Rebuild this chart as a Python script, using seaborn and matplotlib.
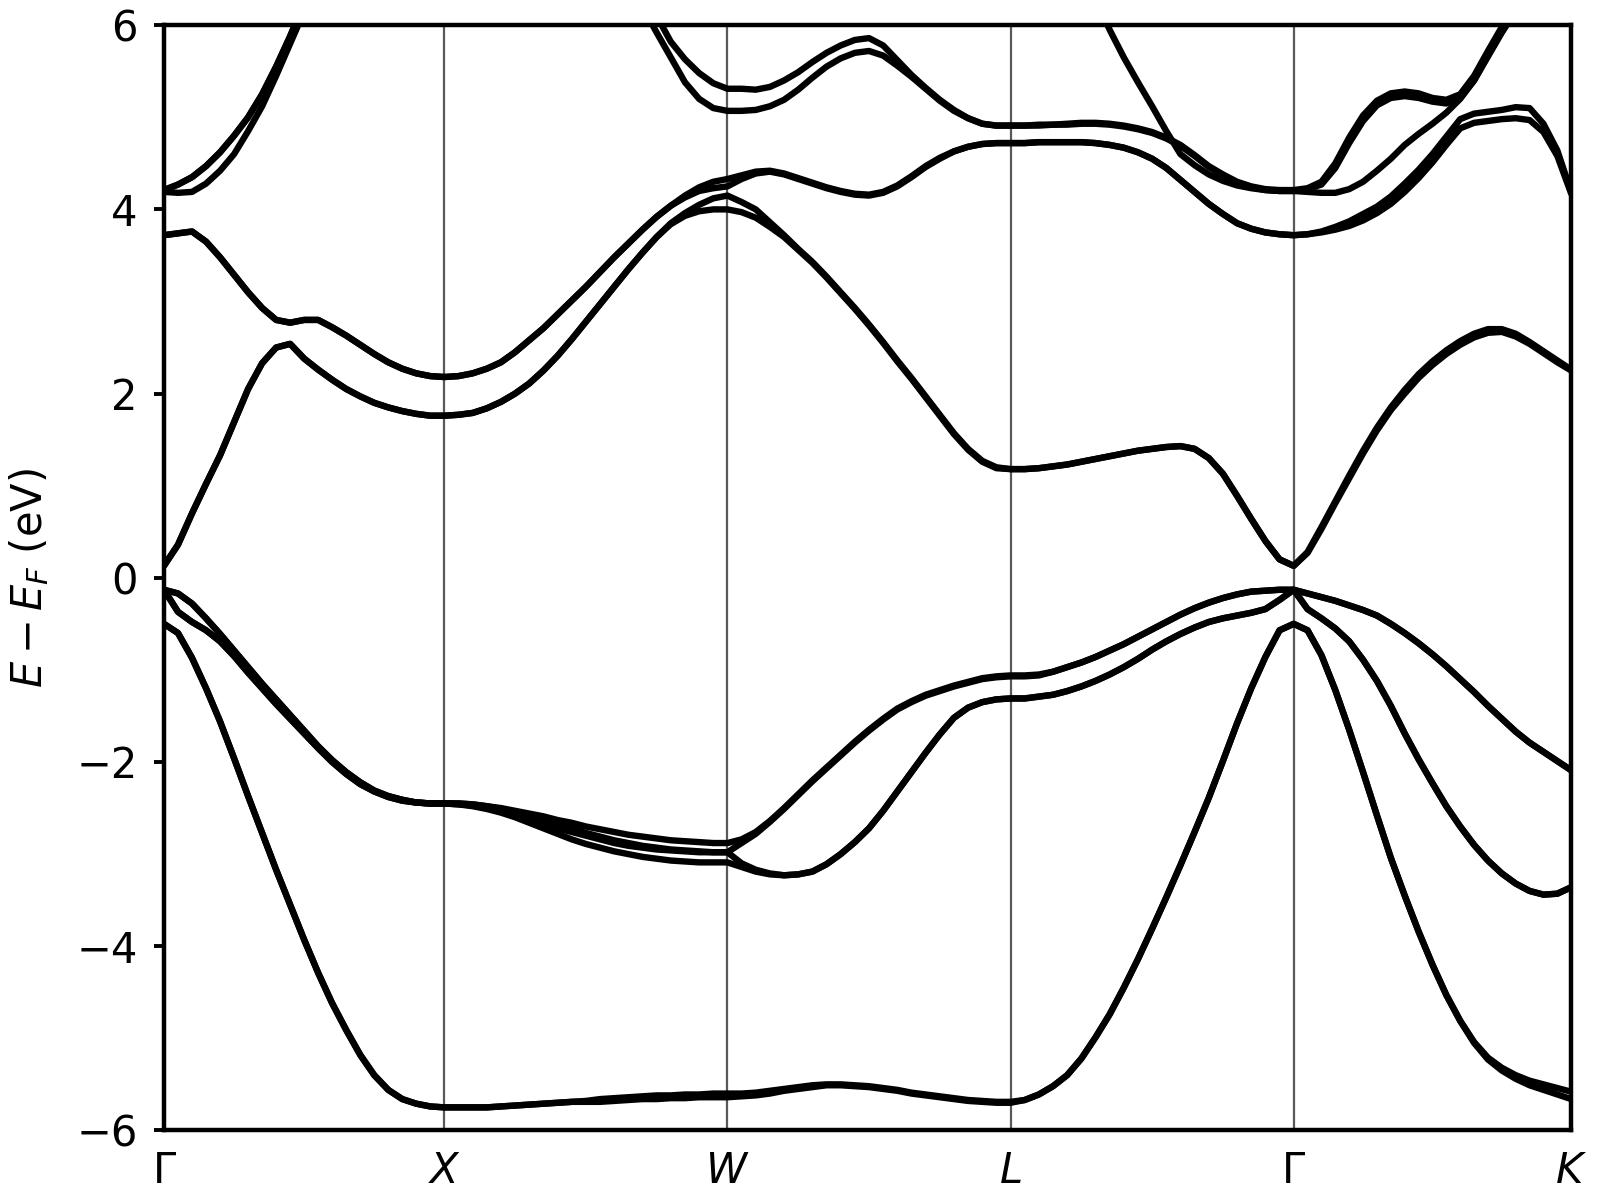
import numpy as np
import pandas as pd
import matplotlib
matplotlib.use("Agg")
import matplotlib.pyplot as plt
import seaborn as sns

sns.set_style("ticks")
plt.rcParams.update({"text.color": "black", "axes.labelcolor": "black",
                     "xtick.color": "black", "ytick.color": "black",
                     "axes.edgecolor": "black", "font.size": 15})

# high-symmetry path (positions)
kpath_labels = [r"$\Gamma$", r"$X$", r"$W$", r"$L$", r"$\Gamma$", r"$K$"]
kpath_nodes = [0.0, 1.0, 2.01, 3.02, 4.03, 5.02]
seg_frac = [0, .05, .1, .15, .2, .25, .3, .35, .4, .45, .5,
            .55, .6, .65, .7, .75, .8, .85, .9, .95, 1]

# band energies (eV), one row per segment: G-X, X-W, W-L, L-G, G-K
B1 = [[-0.50, -0.60, -0.87, -1.20, -1.56, -1.96, -2.37, -2.77, -3.17, -3.55, -3.93, -4.29, -4.62, -4.91, -5.18, -5.40, -5.56, -5.66, -5.71, -5.74, -5.75],
      [-5.75, -5.75, -5.75, -5.75, -5.74, -5.73, -5.72, -5.71, -5.70, -5.69, -5.68, -5.66, -5.65, -5.64, -5.63, -5.62, -5.62, -5.61, -5.61, -5.60, -5.60],
      [-5.60, -5.60, -5.59, -5.57, -5.55, -5.53, -5.51, -5.50, -5.50, -5.51, -5.52, -5.54, -5.56, -5.59, -5.61, -5.63, -5.65, -5.67, -5.68, -5.69, -5.69],
      [-5.69, -5.67, -5.61, -5.52, -5.40, -5.22, -4.99, -4.74, -4.45, -4.14, -3.81, -3.47, -3.12, -2.76, -2.39, -1.99, -1.58, -1.20, -0.86, -0.57, -0.50],
      [-0.50, -0.57, -0.84, -1.22, -1.65, -2.11, -2.58, -3.04, -3.45, -3.84, -4.20, -4.53, -4.81, -5.05, -5.23, -5.35, -5.44, -5.51, -5.56, -5.61, -5.66]]
B1b = [[-0.50, -0.60, -0.87, -1.20, -1.56, -1.96, -2.37, -2.77, -3.17, -3.55, -3.93, -4.29, -4.62, -4.91, -5.18, -5.40, -5.56, -5.66, -5.71, -5.74, -5.75],
       [-5.75, -5.75, -5.75, -5.75, -5.74, -5.73, -5.72, -5.71, -5.70, -5.69, -5.69, -5.69, -5.68, -5.67, -5.66, -5.66, -5.65, -5.65, -5.64, -5.64, -5.64],
       [-5.64, -5.63, -5.62, -5.60, -5.57, -5.55, -5.53, -5.51, -5.51, -5.52, -5.53, -5.55, -5.57, -5.60, -5.62, -5.64, -5.66, -5.68, -5.69, -5.70, -5.70],
       [-5.70, -5.67, -5.61, -5.52, -5.40, -5.22, -4.99, -4.74, -4.45, -4.14, -3.81, -3.47, -3.12, -2.76, -2.39, -1.99, -1.58, -1.20, -0.86, -0.57, -0.50],
       [-0.50, -0.57, -0.84, -1.22, -1.65, -2.11, -2.58, -3.04, -3.45, -3.84, -4.20, -4.53, -4.81, -5.04, -5.21, -5.32, -5.40, -5.46, -5.50, -5.54, -5.58]]
M = [[-0.13, -0.37, -0.48, -0.57, -0.69, -0.85, -1.03, -1.20, -1.37, -1.53, -1.69, -1.85, -2.00, -2.13, -2.24, -2.32, -2.38, -2.42, -2.44, -2.45, -2.45],
     [-2.45, -2.46, -2.48, -2.51, -2.55, -2.60, -2.66, -2.72, -2.78, -2.84, -2.89, -2.93, -2.97, -3.00, -3.03, -3.05, -3.07, -3.08, -3.09, -3.09, -3.09],
     [-3.09, -3.14, -3.19, -3.22, -3.23, -3.22, -3.19, -3.11, -3.00, -2.87, -2.72, -2.53, -2.32, -2.11, -1.90, -1.70, -1.52, -1.41, -1.35, -1.32, -1.31],
     [-1.31, -1.31, -1.29, -1.27, -1.23, -1.18, -1.12, -1.05, -0.97, -0.88, -0.78, -0.69, -0.61, -0.54, -0.48, -0.44, -0.41, -0.38, -0.34, -0.24, -0.13],
     [-0.13, -0.34, -0.44, -0.55, -0.69, -0.89, -1.12, -1.39, -1.69, -1.97, -2.23, -2.48, -2.70, -2.90, -3.07, -3.21, -3.32, -3.40, -3.44, -3.43, -3.36]]
M2 = [[-0.13, -0.37, -0.48, -0.57, -0.69, -0.85, -1.03, -1.20, -1.37, -1.53, -1.69, -1.85, -2.00, -2.13, -2.24, -2.32, -2.38, -2.42, -2.44, -2.45, -2.45],
      [-2.45, -2.46, -2.47, -2.50, -2.53, -2.57, -2.62, -2.67, -2.72, -2.76, -2.80, -2.84, -2.88, -2.91, -2.93, -2.95, -2.96, -2.97, -2.98, -2.98, -2.98],
      [-2.98, -3.10, -3.17, -3.21, -3.23, -3.22, -3.19, -3.11, -3.00, -2.87, -2.72, -2.53, -2.32, -2.11, -1.90, -1.70, -1.52, -1.41, -1.35, -1.32, -1.31],
      [-1.31, -1.31, -1.29, -1.27, -1.23, -1.18, -1.12, -1.05, -0.97, -0.88, -0.78, -0.69, -0.61, -0.54, -0.48, -0.44, -0.41, -0.38, -0.34, -0.24, -0.13],
      [-0.13, -0.34, -0.44, -0.55, -0.69, -0.89, -1.12, -1.39, -1.69, -1.97, -2.23, -2.48, -2.70, -2.90, -3.07, -3.21, -3.32, -3.40, -3.44, -3.43, -3.36]]
T = [[-0.13, -0.17, -0.28, -0.44, -0.61, -0.79, -0.97, -1.15, -1.32, -1.49, -1.66, -1.83, -1.98, -2.11, -2.22, -2.31, -2.37, -2.41, -2.44, -2.45, -2.45],
     [-2.45, -2.45, -2.46, -2.48, -2.50, -2.53, -2.56, -2.59, -2.63, -2.66, -2.70, -2.73, -2.76, -2.79, -2.81, -2.83, -2.85, -2.86, -2.87, -2.88, -2.88],
     [-2.88, -2.84, -2.76, -2.64, -2.50, -2.35, -2.20, -2.06, -1.92, -1.78, -1.65, -1.53, -1.42, -1.34, -1.27, -1.22, -1.17, -1.13, -1.09, -1.07, -1.06],
     [-1.06, -1.06, -1.05, -1.02, -0.97, -0.92, -0.86, -0.79, -0.72, -0.64, -0.56, -0.48, -0.40, -0.33, -0.27, -0.22, -0.18, -0.15, -0.14, -0.13, -0.13],
     [-0.13, -0.17, -0.21, -0.25, -0.30, -0.35, -0.41, -0.50, -0.60, -0.71, -0.83, -0.96, -1.10, -1.24, -1.39, -1.53, -1.67, -1.79, -1.89, -1.99, -2.09]]
T2 = [[-0.13, -0.17, -0.28, -0.44, -0.61, -0.79, -0.97, -1.15, -1.32, -1.49, -1.66, -1.83, -1.98, -2.11, -2.22, -2.31, -2.37, -2.41, -2.44, -2.45, -2.45],
      [-2.45, -2.45, -2.46, -2.48, -2.51, -2.55, -2.59, -2.63, -2.68, -2.72, -2.77, -2.81, -2.85, -2.88, -2.91, -2.93, -2.95, -2.96, -2.97, -2.98, -2.98],
      [-2.98, -2.88, -2.78, -2.65, -2.51, -2.36, -2.21, -2.07, -1.93, -1.79, -1.66, -1.54, -1.43, -1.35, -1.28, -1.23, -1.18, -1.14, -1.10, -1.08, -1.07],
      [-1.07, -1.07, -1.06, -1.02, -0.97, -0.92, -0.86, -0.79, -0.72, -0.64, -0.56, -0.48, -0.40, -0.33, -0.27, -0.22, -0.18, -0.15, -0.14, -0.13, -0.13],
      [-0.13, -0.17, -0.21, -0.25, -0.30, -0.35, -0.41, -0.50, -0.60, -0.71, -0.83, -0.96, -1.10, -1.24, -1.39, -1.53, -1.67, -1.79, -1.89, -1.99, -2.09]]
C = [[0.13, 0.36, 0.70, 1.02, 1.33, 1.69, 2.05, 2.33, 2.50, 2.54, 2.38, 2.26, 2.15, 2.05, 1.97, 1.90, 1.85, 1.81, 1.78, 1.76, 1.76],
     [1.76, 1.77, 1.79, 1.84, 1.91, 2.00, 2.11, 2.25, 2.41, 2.59, 2.78, 2.97, 3.16, 3.35, 3.53, 3.70, 3.84, 3.93, 3.98, 4.00, 4.00],
     [4.00, 3.97, 3.91, 3.81, 3.70, 3.56, 3.42, 3.26, 3.09, 2.92, 2.74, 2.55, 2.35, 2.16, 1.96, 1.76, 1.56, 1.39, 1.26, 1.19, 1.18],
     [1.18, 1.18, 1.19, 1.21, 1.23, 1.26, 1.29, 1.32, 1.35, 1.38, 1.40, 1.42, 1.43, 1.40, 1.30, 1.13, 0.89, 0.64, 0.40, 0.20, 0.13],
     [0.13, 0.28, 0.55, 0.83, 1.11, 1.38, 1.63, 1.85, 2.04, 2.21, 2.35, 2.47, 2.57, 2.65, 2.70, 2.70, 2.65, 2.56, 2.46, 2.36, 2.26]]
C2 = [[0.13, 0.36, 0.70, 1.02, 1.33, 1.69, 2.05, 2.33, 2.50, 2.54, 2.38, 2.26, 2.15, 2.05, 1.97, 1.90, 1.85, 1.81, 1.78, 1.76, 1.76],
      [1.76, 1.77, 1.79, 1.84, 1.91, 2.00, 2.11, 2.25, 2.41, 2.59, 2.78, 2.97, 3.16, 3.35, 3.53, 3.70, 3.85, 3.96, 4.05, 4.12, 4.15],
      [4.15, 4.08, 4.00, 3.86, 3.72, 3.57, 3.43, 3.27, 3.10, 2.93, 2.75, 2.56, 2.36, 2.17, 1.97, 1.77, 1.57, 1.40, 1.27, 1.20, 1.18],
      [1.18, 1.18, 1.19, 1.21, 1.23, 1.26, 1.29, 1.32, 1.35, 1.38, 1.40, 1.42, 1.43, 1.40, 1.30, 1.13, 0.89, 0.64, 0.40, 0.20, 0.13],
      [0.13, 0.27, 0.53, 0.81, 1.08, 1.35, 1.60, 1.82, 2.00, 2.17, 2.31, 2.43, 2.53, 2.61, 2.66, 2.67, 2.62, 2.54, 2.44, 2.34, 2.25]]
D = [[3.72, 3.74, 3.76, 3.65, 3.48, 3.29, 3.10, 2.93, 2.80, 2.77, 2.80, 2.80, 2.72, 2.63, 2.53, 2.43, 2.34, 2.27, 2.22, 2.19, 2.18],
     [2.18, 2.19, 2.22, 2.27, 2.34, 2.45, 2.58, 2.71, 2.86, 3.01, 3.16, 3.32, 3.48, 3.63, 3.78, 3.92, 4.04, 4.15, 4.24, 4.30, 4.33],
     [4.33, 4.37, 4.41, 4.42, 4.39, 4.34, 4.29, 4.24, 4.20, 4.17, 4.16, 4.19, 4.26, 4.36, 4.47, 4.56, 4.63, 4.68, 4.71, 4.72, 4.72],
     [4.72, 4.72, 4.73, 4.73, 4.73, 4.73, 4.72, 4.70, 4.67, 4.62, 4.55, 4.45, 4.32, 4.19, 4.06, 3.95, 3.85, 3.79, 3.75, 3.73, 3.72],
     [3.72, 3.73, 3.76, 3.81, 3.87, 3.95, 4.03, 4.14, 4.28, 4.43, 4.60, 4.79, 4.98, 5.04, 5.06, 5.08, 5.11, 5.10, 4.93, 4.64, 4.19]]
D2 = [[3.72, 3.74, 3.76, 3.65, 3.48, 3.29, 3.10, 2.93, 2.80, 2.77, 2.80, 2.80, 2.72, 2.63, 2.53, 2.43, 2.34, 2.27, 2.22, 2.19, 2.18],
      [2.18, 2.19, 2.22, 2.27, 2.34, 2.45, 2.58, 2.71, 2.86, 3.01, 3.16, 3.32, 3.48, 3.63, 3.78, 3.92, 4.04, 4.13, 4.20, 4.23, 4.25],
      [4.25, 4.33, 4.39, 4.41, 4.38, 4.33, 4.28, 4.23, 4.19, 4.16, 4.15, 4.18, 4.25, 4.35, 4.46, 4.55, 4.63, 4.68, 4.71, 4.72, 4.72],
      [4.72, 4.72, 4.73, 4.73, 4.73, 4.73, 4.72, 4.70, 4.67, 4.62, 4.55, 4.45, 4.32, 4.19, 4.06, 3.95, 3.85, 3.79, 3.75, 3.73, 3.72],
      [3.72, 3.73, 3.75, 3.78, 3.82, 3.88, 3.96, 4.06, 4.19, 4.34, 4.51, 4.70, 4.88, 4.94, 4.96, 4.98, 4.99, 4.97, 4.84, 4.58, 4.17]]
E1 = [[4.21, 4.27, 4.35, 4.47, 4.62, 4.80, 5.00, 5.25, 5.55, 5.88, 6.25, 6.60, 7.00, 7.30, 7.60, 7.90, 8.10, 8.30, 8.40, 8.50, 8.50],
      [8.50, 8.50, 8.40, 8.40, 8.30, 8.20, 8.10, 8.00, 7.80, 7.70, 7.50, 7.30, 7.00, 6.75, 6.45, 6.10, 5.82, 5.63, 5.48, 5.37, 5.31],
      [5.31, 5.31, 5.30, 5.33, 5.40, 5.49, 5.60, 5.70, 5.78, 5.84, 5.86, 5.78, 5.62, 5.46, 5.32, 5.19, 5.08, 4.99, 4.93, 4.91, 4.91],
      [4.91, 4.91, 4.92, 4.92, 4.93, 4.94, 4.94, 4.93, 4.91, 4.88, 4.84, 4.78, 4.70, 4.59, 4.47, 4.38, 4.30, 4.25, 4.22, 4.21, 4.21],
      [4.21, 4.23, 4.30, 4.50, 4.78, 5.02, 5.18, 5.26, 5.28, 5.26, 5.21, 5.19, 5.25, 5.45, 5.72, 5.98, 6.25, 6.50, 6.75, 7.00, 7.20]]
E2 = [[4.19, 4.18, 4.19, 4.28, 4.42, 4.60, 4.85, 5.12, 5.45, 5.80, 6.15, 6.50, 6.80, 7.10, 7.30, 7.50, 7.70, 7.80, 7.90, 8.00, 8.10],
      [8.10, 8.10, 8.00, 8.00, 7.90, 7.80, 7.70, 7.60, 7.40, 7.30, 7.10, 6.90, 6.70, 6.45, 6.20, 5.92, 5.65, 5.38, 5.20, 5.10, 5.07],
      [5.07, 5.07, 5.08, 5.12, 5.19, 5.30, 5.43, 5.55, 5.64, 5.70, 5.72, 5.67, 5.56, 5.44, 5.31, 5.18, 5.07, 4.99, 4.93, 4.91, 4.91],
      [4.91, 4.91, 4.91, 4.92, 4.92, 4.93, 4.93, 4.92, 4.90, 4.87, 4.83, 4.77, 4.69, 4.58, 4.46, 4.37, 4.29, 4.24, 4.21, 4.20, 4.20],
      [4.20, 4.22, 4.27, 4.45, 4.72, 4.96, 5.13, 5.21, 5.23, 5.21, 5.17, 5.15, 5.21, 5.40, 5.67, 5.93, 6.20, 6.45, 6.70, 6.95, 7.15]]
G = [[4.21, 4.27, 4.35, 4.47, 4.62, 4.80, 5.00, 5.25, 5.55, 5.88, 6.25, 6.60, 7.00, 7.30, 7.60, 7.90, 8.10, 8.30, 8.50, 8.70, 9.00],
     [9.00, 9.00, 9.00, 9.00, 9.00, 9.00, 9.00, 9.00, 9.00, 9.00, 9.00, 9.00, 9.00, 9.00, 9.00, 9.00, 9.00, 9.00, 9.00, 9.00, 9.00],
     [9.00, 9.00, 9.00, 9.00, 9.00, 9.00, 9.00, 9.00, 9.00, 9.00, 9.00, 9.00, 9.00, 9.00, 9.00, 9.00, 9.00, 9.00, 9.00, 9.00, 9.00],
     [9.00, 9.00, 9.00, 8.50, 8.00, 7.20, 6.30, 5.95, 5.65, 5.38, 5.12, 4.85, 4.60, 4.48, 4.38, 4.31, 4.26, 4.23, 4.21, 4.20, 4.20],
     [4.20, 4.19, 4.18, 4.18, 4.22, 4.30, 4.42, 4.55, 4.70, 4.82, 4.93, 5.05, 5.20, 5.40, 5.66, 5.92, 6.15, 6.40, 6.60, 6.80, 7.00]]

bands = {"B1": B1, "B1b": B1b, "M": M, "M2": M2, "T": T, "T2": T2,
         "C": C, "C2": C2, "D": D, "D2": D2, "E1": E1, "E2": E2, "G": G}

kvals = np.concatenate([kpath_nodes[i] + np.array(seg_frac) * (kpath_nodes[i + 1] - kpath_nodes[i])
                        for i in range(len(kpath_nodes) - 1)])
frames = []
for name, en in bands.items():
    frames.append(pd.DataFrame({"k": kvals, "E": np.ravel(en), "band": name}))
df = pd.concat(frames, ignore_index=True)

fig, ax = plt.subplots(figsize=(8, 6), dpi=200)
for xk in kpath_nodes[1:-1]:
    ax.axvline(xk, color="0.35", lw=0.8, zorder=0)
sns.lineplot(data=df, x="k", y="E", units="band", estimator=None, sort=False,
             color="black", lw=2.3, legend=False, ax=ax,
             solid_joinstyle="round", solid_capstyle="round")

ax.set_xlim(kpath_nodes[0], kpath_nodes[-1])
ax.set_ylim(-6, 6)
ax.set_yticks(np.arange(-6, 7, 2))
ax.set_xticks(kpath_nodes)
ax.set_xticklabels(kpath_labels)
ax.tick_params(axis="x", length=0, pad=7)
ax.tick_params(axis="y", width=1.4, length=3.5, pad=6)
for sp in ax.spines.values():
    sp.set_linewidth(1.6)
ax.set_xlabel("")
ax.set_ylabel(r"$E - E_F$ (eV)", labelpad=9)

fig.subplots_adjust(left=0.1025, right=0.982, bottom=0.058, top=0.979)
fig.savefig("out.png", dpi=200)
